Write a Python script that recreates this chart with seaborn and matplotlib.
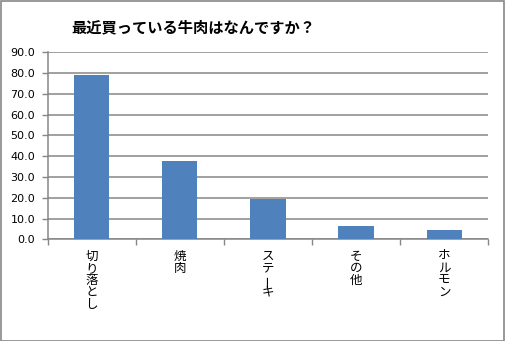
import matplotlib
matplotlib.use("Agg")
import matplotlib.pyplot as plt
import seaborn as sns
import numpy as np
from matplotlib.patches import Rectangle

categories = ["切り落とし", "焼肉", "ステーキ", "その他", "ホルモン"]
values = [79.1, 37.7, 19.4, 6.4, 4.5]
yticks = [0, 10, 20, 30, 40, 50, 60, 70, 80, 90]
title = "最近買っている牛肉はなんですか？"

sns.set_theme(style="white")
plt.rcParams["font.family"] = ["Noto Sans CJK JP", "DejaVu Sans"]

grid_color = "#868686"
bar_color = "#4F81BD"

fig = plt.figure(figsize=(5.05, 3.41), dpi=100)
ax = fig.add_axes([47.5 / 505, 1 - 239.3 / 341, (488.3 - 47.5) / 505, (239.3 - 52.3) / 341])

sns.barplot(x=categories, y=values, color=bar_color, width=0.4, saturation=1,
            linewidth=0, edgecolor="none", ax=ax, zorder=3)

ax.set_ylim(0, 90)
ax.set_xlim(-0.5, len(categories) - 0.5)
ax.set_yticks(yticks)
ax.set_yticklabels([f"{v:.1f}" for v in yticks], family="DejaVu Sans", fontsize=8, color="black")
ax.yaxis.grid(True, color=grid_color, linewidth=1.1)
ax.set_axisbelow(True)
for s in ["top", "right"]:
    ax.spines[s].set_visible(False)
for s in ["left", "bottom"]:
    ax.spines[s].set_color(grid_color)
    ax.spines[s].set_linewidth(1.1)
ax.tick_params(axis="y", length=4, width=1, color=grid_color, left=True, pad=5)

# category boundaries get tick marks, labels drawn separately as vertical text
ax.set_xticks(np.arange(len(categories)))
ax.set_xticklabels([])
ax.tick_params(axis="x", which="major", length=0)
ax.set_xticks(np.arange(len(categories) + 1) - 0.5, minor=True)
ax.tick_params(axis="x", which="minor", length=4, width=1, color=grid_color, bottom=True, direction="out")
ax.set_xlabel("")
ax.set_ylabel("")

# vertical (tategaki) category labels, one character per row;
# the long-vowel mark is turned upright as in vertical writing
step = 12.2
for i, label in enumerate(categories):
    for j, ch in enumerate(label):
        dx = 0.5 if ch == "ー" else 0
        ax.annotate(ch, xy=(i, 0), xycoords="data",
                    xytext=(dx, -12 - j * step * 72 / 100), textcoords="offset points",
                    ha="center", va="center", fontsize=9, color="black",
                    rotation=90 if ch == "ー" else 0, annotation_clip=False)

fig.text(193 / 505, 1 - 27 / 341, title, ha="center", va="center",
         fontsize=11, fontweight="bold", color="black")

fig.patches.append(Rectangle((0.001, 0.001), 0.997, 0.997, transform=fig.transFigure,
                             fill=False, edgecolor="#888888", linewidth=1.2))

fig.savefig("out.png", dpi=100)
